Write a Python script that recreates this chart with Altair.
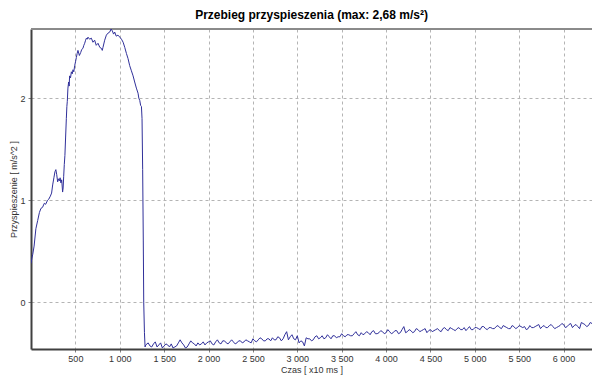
import altair as alt
import pandas as pd

# --- data ---
rise_t = [0, 10, 20, 35, 55, 75, 95, 112, 130, 150, 165, 187, 200, 218, 232, 244, 258, 270, 280, 290,
          300, 310, 319, 328, 337, 346, 356, 362, 368, 375, 382, 390, 398, 404, 409, 416, 424, 430, 435, 445,
          455, 465, 473, 482, 492, 502, 511, 520, 529, 545, 560, 572, 585, 595, 605, 615, 624, 633, 642, 660,
          680, 698, 717, 735, 755, 775, 793, 803, 811, 830, 849, 868, 887, 902, 917, 930, 943, 960, 980, 1000,
          1019, 1038, 1056, 1075, 1093, 1112, 1131, 1150, 1168, 1187, 1206, 1215, 1225, 1235, 1244, 1251, 1258, 1265, 1270, 1278,
          1285, 1293]
rise_a = [0.38, 0.43, 0.47, 0.55, 0.72, 0.80, 0.88, 0.92, 0.93, 0.97, 0.96, 1.00, 1.01, 1.04, 1.07, 1.15, 1.22, 1.28, 1.30, 1.25,
          1.18, 1.21, 1.19, 1.22, 1.17, 1.20, 1.08, 1.12, 1.23, 1.35, 1.44, 1.62, 1.80, 1.92, 1.97, 2.10, 2.16, 2.12, 2.22, 2.20,
          2.26, 2.24, 2.28, 2.26, 2.32, 2.36, 2.40, 2.44, 2.47, 2.42, 2.45, 2.48, 2.49, 2.52, 2.54, 2.57, 2.59, 2.58, 2.60, 2.58,
          2.59, 2.55, 2.57, 2.52, 2.54, 2.50, 2.49, 2.47, 2.50, 2.57, 2.62, 2.64, 2.65, 2.68, 2.66, 2.63, 2.65, 2.61, 2.62, 2.60,
          2.58, 2.55, 2.50, 2.44, 2.39, 2.32, 2.27, 2.22, 2.16, 2.10, 2.05, 2.00, 1.98, 1.93, 1.92, 1.80, 1.30, 0.60, 0.00, -0.30,
          -0.44, -0.42]

# tail samples (every 40 units) and in-between samples (offset by 20 units)
tail_t = list(range(1320, 6321, 40))
tail_a = [-0.40, -0.44, -0.39, -0.42, -0.45, -0.41, -0.44, -0.45, -0.43, -0.37, -0.42, -0.44, -0.38, -0.41, -0.40, -0.41, -0.42, -0.39,
          -0.41, -0.39, -0.40, -0.38, -0.40, -0.39, -0.39, -0.40, -0.38, -0.39, -0.38, -0.40,
          -0.38, -0.37, -0.36, -0.38, -0.36, -0.35, -0.37, -0.35, -0.36, -0.29, -0.34, -0.36, -0.33,
          -0.38, -0.43, -0.36, -0.38, -0.34, -0.36, -0.33, -0.35, -0.34, -0.33, -0.35, -0.34,
          -0.33, -0.32, -0.33, -0.31, -0.32, -0.30, -0.31, -0.30, -0.29, -0.31, -0.30, -0.29, -0.30,
          -0.29, -0.30, -0.28, -0.30, -0.24, -0.29, -0.28, -0.29, -0.27, -0.28, -0.26, -0.28, -0.29,
          -0.27, -0.28, -0.26, -0.27, -0.25, -0.27, -0.26, -0.27, -0.25, -0.26, -0.27, -0.25,
          -0.26, -0.24, -0.26, -0.25, -0.26, -0.24, -0.25, -0.23, -0.25, -0.26, -0.24, -0.25, -0.24,
          -0.24, -0.26, -0.25, -0.24, -0.22, -0.24, -0.25, -0.23, -0.24, -0.25, -0.23, -0.22,
          -0.24, -0.21, -0.23, -0.24, -0.20, -0.22, -0.23, -0.21]
mid_t = list(range(1340, 6301, 40))
mid_a = [-0.43, -0.41, -0.44, -0.40, -0.43, -0.42, -0.41, -0.44, -0.40, -0.40,
         -0.45, -0.41, -0.40, -0.43, -0.42, -0.39, -0.40, -0.38, -0.42, -0.37,
         -0.41, -0.38, -0.41, -0.37, -0.41, -0.38, -0.40, -0.37, -0.39, -0.36,
         -0.39, -0.35, -0.38, -0.36, -0.38, -0.37, -0.34, -0.38, -0.32, -0.37,
         -0.32, -0.37, -0.40, -0.39, -0.35, -0.36, -0.37, -0.33, -0.35, -0.36,
         -0.32, -0.36, -0.33, -0.34, -0.31, -0.34, -0.32, -0.33, -0.29, -0.33,
         -0.32, -0.29, -0.32, -0.28, -0.31, -0.28, -0.31, -0.27, -0.31, -0.28,
         -0.31, -0.27, -0.30, -0.27, -0.30, -0.26, -0.29, -0.27, -0.30, -0.27,
         -0.28, -0.26, -0.29, -0.25, -0.28, -0.26, -0.28, -0.25, -0.27, -0.28,
         -0.24, -0.27, -0.25, -0.27, -0.24, -0.27, -0.25, -0.26, -0.23, -0.26,
         -0.24, -0.26, -0.23, -0.26, -0.23, -0.25, -0.27, -0.23, -0.25, -0.23,
         -0.26, -0.23, -0.25, -0.22, -0.26, -0.24, -0.21, -0.25, -0.22, -0.25,
         -0.22, -0.26, -0.21, -0.24, -0.20]

x_ticks = [500, 1000, 1500, 2000, 2500, 3000, 3500, 4000, 4500, 5000, 5500, 6000]
y_ticks = [0, 1, 2]
x_domain = [0, 6320]
y_domain = [-0.46, 2.68]

n_tail = min(len(tail_t), len(tail_a))
n_mid = min(len(mid_t), len(mid_a))
df = pd.DataFrame({
    "t": rise_t + tail_t[:n_tail] + mid_t[:n_mid],
    "a": rise_a + tail_a[:n_tail] + mid_a[:n_mid],
}).sort_values("t").reset_index(drop=True)

FONT = "Liberation Sans"

x_enc = alt.X(
    "t:Q",
    scale=alt.Scale(domain=x_domain, nice=False, zero=False),
    axis=alt.Axis(
        values=x_ticks,
        labelExpr="replace(format(datum.value, ','), ',', ' ')",
        title="Czas [ x10 ms ]",
        grid=True, gridDash=[3, 3], gridColor="#b4b4b4", gridWidth=1,
        domainColor="#404040", domainWidth=2,
        tickColor="#808080", tickSize=3,
        labelFont=FONT, labelFontSize=9, labelColor="#333333", labelPadding=2,
        titleFont=FONT, titleFontSize=9, titleFontWeight="normal", titleColor="#333333", titlePadding=2,
    ),
)
y_enc = alt.Y(
    "a:Q",
    scale=alt.Scale(domain=y_domain, nice=False, zero=False),
    axis=alt.Axis(
        values=y_ticks,
        format="d",
        title="Przyspieszenie [ m/s^2 ]",
        grid=True, gridDash=[3, 3], gridColor="#b4b4b4", gridWidth=1,
        domainColor="#404040", domainWidth=2,
        tickColor="#808080", tickSize=3,
        labelFont=FONT, labelFontSize=9, labelColor="#333333", labelPadding=3,
        titleFont=FONT, titleFontSize=9, titleFontWeight="normal", titleColor="#333333", titlePadding=1,
    ),
)

line = alt.Chart(df).mark_line(color="#30309a", strokeWidth=1, clip=True).encode(x=x_enc, y=y_enc)

top_border = alt.Chart(df).mark_rule(color="#8a8a8a", strokeWidth=1).encode(y=alt.datum(y_domain[1]))

chart = (
    alt.layer(top_border, line)
    .properties(
        width=561,
        height=320,
        autosize=alt.AutoSizeParams(type="none"),
        padding={"left": 31, "top": 29, "right": 0, "bottom": 27},
        background="white",
        title=alt.TitleParams(
            "Przebieg przyspieszenia (max: 2,68 m/s²)",
            font=FONT, fontSize=12, fontWeight="bold", color="#000000",
            anchor="middle", offset=7,
        ),
    )
    .configure_view(stroke=None)
)

chart.save("out.html", embed_options={"renderer": "svg", "actions": False})
